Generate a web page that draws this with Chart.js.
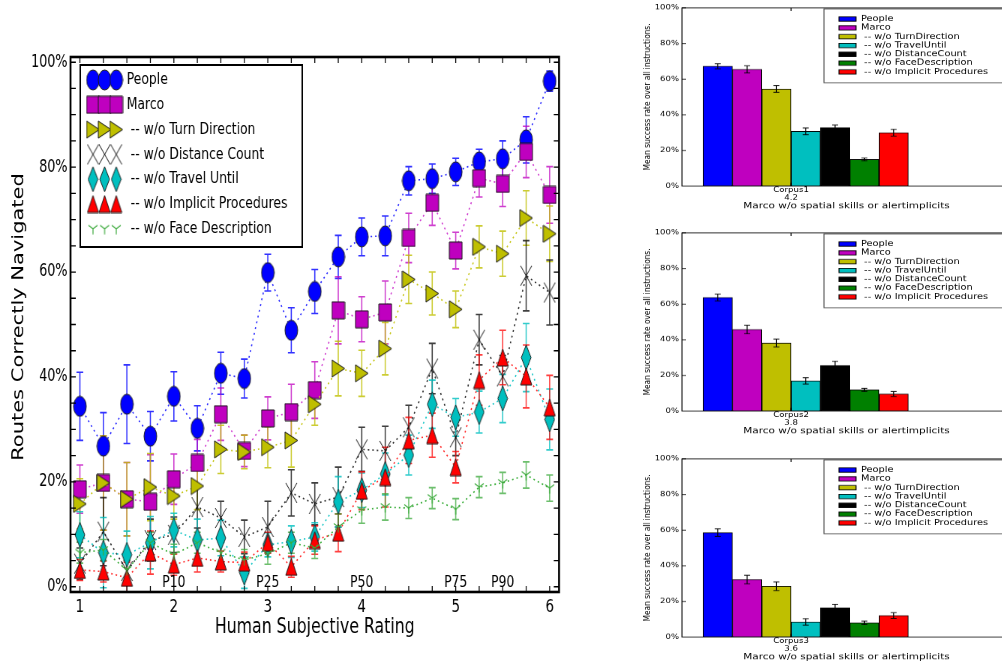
<!DOCTYPE html>
<html>
<head>
<meta charset="utf-8">
<title>Routes correctly navigated</title>
<script src="https://cdn.jsdelivr.net/npm/chart.js@4.4.1/dist/chart.umd.min.js"></script>
<style>
    body { margin: 0; background: #fff; width: 1002px; height: 664px; overflow: hidden; position: relative; }
    #mainWrap { position: absolute; left: 0; top: 0; width: 756px; height: 664px; transform: scaleX(0.75); transform-origin: 0 0; }
    .panel { position: absolute; left: 630px; width: 385px; height: 280px; transform: scaleY(0.78); transform-origin: 0 0; }
</style>
</head>
<body>
<div id="mainWrap"><canvas id="routesChart" width="756" height="664"></canvas></div>
<div class="panel" style="top:0px"><canvas id="corpus1Chart" width="385" height="280"></canvas></div>
<div class="panel" style="top:225px"><canvas id="corpus2Chart" width="385" height="280"></canvas></div>
<div class="panel" style="top:451px"><canvas id="corpus3Chart" width="385" height="280"></canvas></div>
<script>
// ---- left plot data ----
const ratings = [1, 1.25, 1.5, 1.75, 2, 2.25, 2.5, 2.75, 3, 3.25, 3.5, 3.75, 4, 4.25, 4.5, 4.75, 5, 5.25, 5.5, 5.75, 6];
const xTickValues = [1, 2, 3, 4, 5, 6];
const yTickValues = [0, 20, 40, 60, 80, 100];

const seriesNames = ['People', 'Marco', ' -- w/o Turn Direction', ' -- w/o Distance Count',
    ' -- w/o Travel Until', ' -- w/o Implicit Procedures', ' -- w/o Face Description'];

const peopleRate = [34.4, 26.8, 34.8, 28.7, 36.3, 30.2, 40.7, 39.7, 59.9, 48.9, 56.3, 62.9, 66.7, 66.9, 77.4, 77.8, 79.1, 81.0, 81.6, 85.2, 96.4];
const peopleErr = [6.5, 6.4, 7.5, 4.7, 4.7, 4.3, 4.0, 3.7, 3.5, 4.3, 4.2, 4.1, 3.6, 3.8, 2.7, 2.8, 2.6, 2.4, 3.4, 4.4, 1.9];
const marcoRate = [18.6, 19.8, 16.7, 16.2, 20.5, 23.6, 32.9, 25.9, 32.1, 33.3, 37.5, 52.7, 51.0, 52.3, 66.5, 73.2, 64.1, 77.9, 76.8, 82.9, 74.7];
const marcoErr = [4.6, 9.0, 7.0, 9.0, 4.8, 4.5, 5.0, 3.0, 4.1, 5.3, 5.4, 6.4, 4.3, 6.0, 4.7, 4.3, 3.5, 3.6, 4.3, 4.9, 5.4];
const turnRate = [15.8, 19.8, 16.7, 19.0, 17.3, 19.2, 26.2, 25.7, 26.6, 27.9, 34.8, 41.6, 40.7, 45.4, 58.6, 55.9, 52.9, 64.8, 63.5, 70.3, 67.3];
const turnErr = [4.8, 9.0, 7.0, 6.4, 4.4, 4.5, 4.6, 3.2, 3.9, 5.1, 4.0, 5.2, 4.4, 5.0, 4.6, 4.1, 3.5, 4.0, 4.3, 5.2, 5.3];
const distanceRate = [4.4, 10.5, 3.0, 8.9, 9.9, 15.2, 13.1, 9.5, 11.4, 17.9, 15.8, 17.1, 26.2, 25.9, 30.4, 41.6, 28.5, 47.1, 40.1, 59.3, 56.1];
const distanceErr = [3.0, 6.5, 2.0, 4.0, 3.4, 4.0, 3.2, 3.2, 4.9, 4.4, 4.0, 5.7, 4.2, 4.7, 4.2, 4.8, 3.5, 4.8, 4.0, 6.7, 6.2];
const travelRate = [9.9, 6.5, 6.1, 8.4, 10.8, 8.9, 9.3, 2.7, 8.0, 8.6, 9.5, 16.2, 18.4, 21.5, 25.1, 34.8, 32.3, 33.3, 35.9, 43.7, 31.9];
const travelErr = [4.4, 6.7, 4.5, 5.0, 3.2, 4.0, 3.4, 3.0, 2.3, 3.0, 2.7, 4.8, 3.3, 4.0, 3.8, 4.6, 3.6, 4.0, 4.6, 6.5, 5.8];
const implicitRate = [3.2, 2.9, 1.7, 6.5, 4.2, 5.5, 4.8, 4.6, 8.4, 3.8, 8.9, 10.3, 18.3, 20.9, 27.9, 28.9, 22.8, 39.4, 43.7, 40.1, 34.2];
const implicitErr = [2.0, 2.0, 3.0, 4.1, 2.0, 2.7, 2.0, 2.0, 2.0, 2.0, 2.7, 3.6, 3.6, 5.7, 4.4, 4.2, 3.0, 4.8, 5.2, 6.0, 6.1];
const faceRate = [6.5, 7.0, 3.2, 8.4, 6.1, 8.4, 6.5, 5.1, 6.3, 8.4, 7.4, 11.4, 14.6, 15.2, 15.0, 16.9, 14.8, 19.0, 19.8, 21.3, 18.8];
const faceErr = [2.0, 2.0, 2.0, 2.0, 2.0, 2.0, 2.0, 2.0, 2.0, 2.0, 2.0, 2.5, 2.5, 2.5, 2.0, 2.0, 2.0, 2.0, 2.0, 2.5, 2.5];

const percentileLabels = ['P10', 'P25', 'P50', 'P75', 'P90'];
const percentileRatings = [2, 3, 4, 5, 5.5];

// ---- right hand bar panels ----
const barNames = ['People', 'Marco', ' -- w/o TurnDirection', ' -- w/o TravelUntil',
    ' -- w/o DistanceCount', ' -- w/o FaceDescription', ' -- w/o Implicit Procedures'];
const barColors = ['#0000ff', '#bf00bf', '#bfbf00', '#00bfbf', '#000000', '#008000', '#ff0000'];
const barSlots = [0.5, 1.5, 2.5, 3.5, 4.5, 5.5, 6.5];
const corpusNames = ['Corpus1', 'Corpus2', 'Corpus3'];
const corpusScores = ['4.2', '3.8', '3.6'];
const corpus1Values = [67.2, 65.5, 54.5, 30.7, 32.8, 15.0, 29.9];
const corpus1Errors = [1.4, 2.0, 1.9, 1.9, 1.5, 0.75, 1.9];
const corpus2Values = [63.7, 45.8, 38.2, 16.9, 25.6, 11.9, 9.6];
const corpus2Errors = [1.9, 2.4, 2.2, 1.8, 2.3, 0.85, 1.4];
const corpus3Values = [58.6, 32.3, 28.5, 8.5, 16.5, 8.0, 12.1];
const corpus3Errors = [2.1, 2.4, 2.4, 1.8, 1.9, 0.95, 1.6];

Chart.defaults.font.family = '"DejaVu Sans", sans-serif';
Chart.defaults.color = '#000';

// marker images (left plot is drawn wide and squeezed by css, so shapes are stretched here)
function markerCanvas(w, h, paint) {
    const c = document.createElement('canvas');
    c.width = w;
    c.height = h;
    const g = c.getContext('2d');
    g.lineWidth = 1;
    paint(g, w, h);
    return c;
}

function polygon(g, pts, fill) {
    g.beginPath();
    g.moveTo(pts[0][0], pts[0][1]);
    pts.slice(1).forEach(p => g.lineTo(p[0], p[1]));
    g.closePath();
    g.fillStyle = fill;
    g.fill();
    g.strokeStyle = '#1a1a1a';
    g.stroke();
}

const circleMarker = markerCanvas(19, 22, (g, w, h) => {
    g.beginPath();
    g.ellipse(w / 2, h / 2, w / 2 - 1, h / 2 - 1, 0, 0, Math.PI * 2);
    g.fillStyle = '#0000ff';
    g.fill();
    g.strokeStyle = '#1a1a1a';
    g.stroke();
});
const squareMarker = markerCanvas(19, 19, (g, w, h) =>
    polygon(g, [[1, 1], [w - 1, 1], [w - 1, h - 1], [1, h - 1]], '#bf00bf'));
const triRightMarker = markerCanvas(19, 19, (g, w, h) =>
    polygon(g, [[1, 1], [w - 1, h / 2], [1, h - 1]], '#bfbf00'));
const crossMarker = markerCanvas(17, 22, (g, w, h) => {
    g.strokeStyle = '#000';
    g.beginPath();
    g.moveTo(1, 1); g.lineTo(w - 1, h - 1);
    g.moveTo(w - 1, 1); g.lineTo(1, h - 1);
    g.stroke();
});
const diamondMarker = markerCanvas(15, 27, (g, w, h) =>
    polygon(g, [[w / 2, 1], [w - 1, h / 2], [w / 2, h - 1], [1, h / 2]], '#00bfbf'));
const triUpMarker = markerCanvas(17, 19, (g, w, h) =>
    polygon(g, [[w / 2, 1], [w - 1, h - 1], [1, h - 1]], '#ff0000'));
const triDownMarker = markerCanvas(14, 12, (g, w, h) => {
    g.strokeStyle = '#3caa3c';
    g.lineWidth = 1.2;
    g.beginPath();
    g.moveTo(w / 2, h / 2); g.lineTo(w / 2, h - 0.5);
    g.moveTo(w / 2, h / 2); g.lineTo(1, 2.5);
    g.moveTo(w / 2, h / 2); g.lineTo(w - 1, 2.5);
    g.stroke();
});

const series = [
    { name: seriesNames[0], values: peopleRate, errors: peopleErr, line: '#3030ff', err: 'rgba(0,0,255,0.8)', marker: circleMarker },
    { name: seriesNames[1], values: marcoRate, errors: marcoErr, line: '#d040d0', err: 'rgba(191,0,191,0.75)', marker: squareMarker },
    { name: seriesNames[2], values: turnRate, errors: turnErr, line: '#c8c820', err: 'rgba(191,191,0,0.8)', marker: triRightMarker },
    { name: seriesNames[3], values: distanceRate, errors: distanceErr, line: '#333333', err: 'rgba(0,0,0,0.75)', marker: crossMarker },
    { name: seriesNames[4], values: travelRate, errors: travelErr, line: '#20c8c8', err: 'rgba(0,191,191,0.8)', marker: diamondMarker },
    { name: seriesNames[5], values: implicitRate, errors: implicitErr, line: '#ff3030', err: 'rgba(255,0,0,0.75)', marker: triUpMarker },
    { name: seriesNames[6], values: faceRate, errors: faceErr, line: '#40b040', err: 'rgba(60,170,60,0.75)', marker: triDownMarker }
];

const routeErrorBars = {
    id: 'routeErrorBars',
    beforeDatasetsDraw(chart) {
        const { ctx, chartArea: a, scales: { x, y } } = chart;
        ctx.save();
        ctx.beginPath();
        ctx.rect(a.left, a.top, a.right - a.left, a.bottom - a.top);
        ctx.clip();
        ctx.lineWidth = 1.6;
        chart.data.datasets.forEach(ds => {
            ctx.strokeStyle = ds.errorColor;
            ctx.beginPath();
            ds.data.forEach((pt, i) => {
                const px = x.getPixelForValue(pt.x);
                const top = y.getPixelForValue(pt.y + ds.errors[i]);
                const bot = y.getPixelForValue(pt.y - ds.errors[i]);
                ctx.moveTo(px, top); ctx.lineTo(px, bot);
                ctx.moveTo(px - 4.5, top); ctx.lineTo(px + 4.5, top);
                ctx.moveTo(px - 4.5, bot); ctx.lineTo(px + 4.5, bot);
            });
            ctx.stroke();
        });
        ctx.restore();
    }
};

const routeFrame = {
    id: 'routeFrame',
    afterDatasetsDraw(chart) {
        const { ctx, chartArea: a, scales: { x, y } } = chart;
        ctx.save();
        // percentile marks along the bottom
        ctx.fillStyle = '#000';
        ctx.font = '16.5px "DejaVu Sans"';
        ctx.textAlign = 'center';
        ctx.textBaseline = 'alphabetic';
        percentileLabels.forEach((t, i) => {
            ctx.fillText(t, x.getPixelForValue(percentileRatings[i]), y.getPixelForValue(0));
        });
        // inward ticks
        ctx.strokeStyle = '#000';
        ctx.lineWidth = 1.3;
        ctx.beginPath();
        for (let v = 1; v <= 6.001; v += 0.25) {
            const px = x.getPixelForValue(v);
            ctx.moveTo(px, a.bottom); ctx.lineTo(px, a.bottom - 6);
            ctx.moveTo(px, a.top); ctx.lineTo(px, a.top + 6);
        }
        for (let v = 0; v <= 100; v += 5) {
            const py = y.getPixelForValue(v);
            ctx.moveTo(a.left, py); ctx.lineTo(a.left + 7, py);
            ctx.moveTo(a.right, py); ctx.lineTo(a.right - 7, py);
        }
        ctx.stroke();
        ctx.lineWidth = 2.6;
        ctx.strokeRect(a.left, a.top, a.right - a.left, a.bottom - a.top);
        ctx.restore();
    }
};

const routeLegend = {
    id: 'routeLegend',
    afterDraw(chart) {
        const ctx = chart.ctx;
        ctx.save();
        // y axis title, placed by hand
        ctx.fillStyle = '#000';
        ctx.font = '21px "DejaVu Sans"';
        ctx.textAlign = 'center';
        ctx.textBaseline = 'middle';
        ctx.translate(26, 317);
        ctx.rotate(-Math.PI / 2);
        ctx.fillText('Routes Correctly Navigated', 0, 0);
        ctx.restore();

        ctx.save();
        ctx.fillStyle = '#fff';
        ctx.strokeStyle = '#000';
        ctx.lineWidth = 2;
        ctx.fillRect(107, 65, 296, 182);
        ctx.strokeRect(107, 65, 296, 182);
        ctx.font = '16.5px "DejaVu Sans"';
        ctx.textBaseline = 'middle';
        ctx.fillStyle = '#000';
        series.forEach((s, i) => {
            const cy = 80 + i * 24.8;
            [124, 139.5, 155].forEach(cx =>
                ctx.drawImage(s.marker, cx - s.marker.width / 2, cy - s.marker.height / 2));
            ctx.fillText(s.name, 169, cy);
        });
        ctx.restore();
    }
};

new Chart(document.getElementById('routesChart'), {
    type: 'line',
    data: {
        datasets: series.map((s, i) => ({
            label: s.name,
            data: ratings.map((r, k) => ({ x: r, y: s.values[k] })),
            errors: s.errors,
            errorColor: s.err,
            borderColor: s.line,
            borderWidth: 1.6,
            borderDash: [2, 4],
            pointStyle: s.marker,
            pointRadius: 9,
            pointHoverRadius: 9,
            fill: false,
            tension: 0,
            order: series.length - i
        }))
    },
    options: {
        responsive: false,
        animation: false,
        events: [],
        layout: { padding: { top: 57, right: 7, left: 0, bottom: 0 } },
        plugins: { legend: { display: false }, tooltip: { enabled: false } },
        scales: {
            x: {
                type: 'linear',
                min: 0.9,
                max: 6.1,
                afterBuildTicks: s => { s.ticks = xTickValues.map(v => ({ value: v })); },
                afterFit: s => { s.height = 72; },
                grid: { display: false, drawTicks: false },
                border: { display: false },
                ticks: { padding: 5, font: { size: 18 } },
                title: {
                    display: true,
                    text: 'Human Subjective Rating',
                    font: { size: 21 },
                    padding: { top: 0, bottom: 24 }
                }
            },
            y: {
                min: -1,
                max: 101,
                afterBuildTicks: s => { s.ticks = yTickValues.map(v => ({ value: v })); },
                afterFit: s => { s.width = 94; },
                grid: { display: false, drawTicks: false },
                border: { display: false },
                ticks: { padding: 4, font: { size: 17 }, callback: v => v + '%' }
            }
        }
    },
    plugins: [routeErrorBars, routeFrame, routeLegend]
});

// ---- bar panels ----
const barErrorBars = {
    id: 'barErrorBars',
    afterDatasetsDraw(chart) {
        const { ctx, scales: { x, y } } = chart;
        ctx.save();
        ctx.strokeStyle = '#000';
        ctx.lineWidth = 1;
        ctx.beginPath();
        chart.data.datasets.forEach(ds => {
            const pt = ds.data[0];
            const px = x.getPixelForValue(pt.x);
            const top = y.getPixelForValue(pt.y + ds.errors[0]);
            const bot = y.getPixelForValue(pt.y - ds.errors[0]);
            ctx.moveTo(px, top); ctx.lineTo(px, bot);
            ctx.moveTo(px - 3, top); ctx.lineTo(px + 3, top);
            ctx.moveTo(px - 3, bot); ctx.lineTo(px + 3, bot);
        });
        ctx.stroke();
        ctx.restore();
    }
};

const barFrame = {
    id: 'barFrame',
    afterDatasetsDraw(chart) {
        const { ctx, chartArea: a, scales: { x, y } } = chart;
        ctx.save();
        ctx.strokeStyle = '#000';
        ctx.lineWidth = 1;
        ctx.beginPath();
        yTickValues.forEach(v => {
            const py = y.getPixelForValue(v);
            ctx.moveTo(a.left, py); ctx.lineTo(a.left + 4, py);
        });
        const tx = x.getPixelForValue(3);
        ctx.moveTo(tx, a.top); ctx.lineTo(tx, a.top + 4);
        ctx.moveTo(tx, a.bottom); ctx.lineTo(tx, a.bottom - 4);
        ctx.stroke();
        ctx.strokeRect(a.left, a.top, a.right - a.left, a.bottom - a.top);
        ctx.restore();
    }
};

const barLegend = {
    id: 'barLegend',
    afterDraw(chart) {
        const ctx = chart.ctx;
        ctx.save();
        ctx.fillStyle = '#fff';
        ctx.strokeStyle = '#444';
        ctx.lineWidth = 1;
        ctx.fillRect(194, 11.5, 230, 94.5);
        ctx.strokeRect(194, 11.5, 230, 94.5);
        ctx.font = '9.8px "DejaVu Sans"';
        ctx.textBaseline = 'middle';
        barNames.forEach((name, i) => {
            const cy = 24.4 + i * 11.3;
            ctx.fillStyle = barColors[i];
            ctx.fillRect(209, cy - 2.8, 17, 5.6);
            ctx.strokeStyle = '#000';
            ctx.strokeRect(209, cy - 2.8, 17, 5.6);
            ctx.fillStyle = '#000';
            ctx.fillText(name, 231, cy);
        });
        ctx.restore();
    }
};

function buildCorpusChart(canvasId, values, errors, corpusName, corpusScore) {
    new Chart(document.getElementById(canvasId), {
        type: 'bar',
        data: {
            datasets: barNames.map((name, i) => ({
                label: name,
                data: [{ x: barSlots[i], y: values[i] }],
                errors: [errors[i]],
                backgroundColor: barColors[i],
                borderColor: '#000',
                borderWidth: 1,
                borderSkipped: false,
                grouped: false,
                categoryPercentage: 1,
                barPercentage: 1
            }))
        },
        options: {
            responsive: false,
            animation: false,
            events: [],
            layout: { padding: { top: 10, right: 4, left: 0, bottom: 0 } },
            plugins: { legend: { display: false }, tooltip: { enabled: false } },
            scales: {
                x: {
                    type: 'linear',
                    offset: false,
                    min: -0.72,
                    max: 10.5,
                    afterBuildTicks: s => { s.ticks = [{ value: 3 }]; },
                    afterFit: s => { s.height = 41.5; },
                    grid: { display: false, drawTicks: false },
                    border: { display: false },
                    ticks: { padding: 0, font: { size: 8.6, lineHeight: 1.2 }, callback: () => [corpusName, corpusScore] },
                    title: {
                        display: true,
                        text: 'Marco w/o spatial skills or alertimplicits',
                        font: { size: 10.5 },
                        padding: { top: 0, bottom: 9 }
                    }
                },
                y: {
                    min: 0,
                    max: 100,
                    afterBuildTicks: s => { s.ticks = yTickValues.map(v => ({ value: v })); },
                    afterFit: s => { s.width = 52; },
                    grid: { display: false, drawTicks: false },
                    border: { display: false },
                    ticks: { padding: 3, font: { size: 8.5 }, callback: v => v + '%' },
                    title: {
                        display: true,
                        text: 'Mean success rate over all instructions.',
                        font: { size: 9.5 },
                        padding: { top: 12, bottom: 0 }
                    }
                }
            }
        },
        plugins: [barErrorBars, barFrame, barLegend]
    });
}

buildCorpusChart('corpus1Chart', corpus1Values, corpus1Errors, corpusNames[0], corpusScores[0]);
buildCorpusChart('corpus2Chart', corpus2Values, corpus2Errors, corpusNames[1], corpusScores[1]);
buildCorpusChart('corpus3Chart', corpus3Values, corpus3Errors, corpusNames[2], corpusScores[2]);
</script>
</body>
</html>
